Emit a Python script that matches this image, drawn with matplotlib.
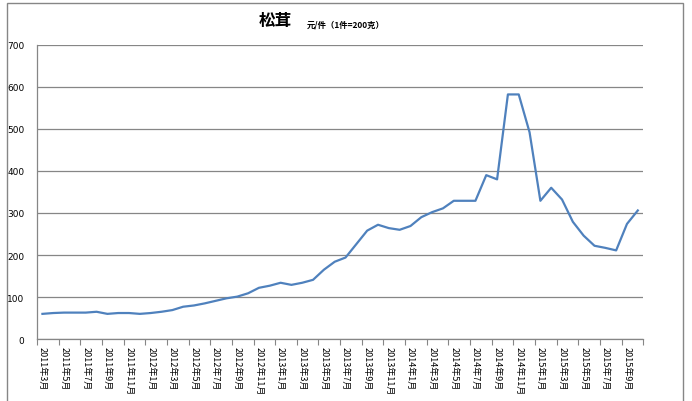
import matplotlib
matplotlib.use('Agg')
import matplotlib.pyplot as plt
import numpy as np
from matplotlib.patches import Rectangle

plt.rcParams['font.family'] = ['Noto Sans CJK SC', 'DejaVu Sans']

# monthly price, 2011-3 .. 2015-10 (元/件)
months = []
for y in range(2011, 2016):
    for m in range(1, 13):
        if (y == 2011 and m < 3) or (y == 2015 and m > 10):
            continue
        months.append('%d年%d月' % (y, m))

prices = [60, 62, 63, 63, 63, 65, 60, 62, 62, 60,
          62, 65, 69, 77, 80, 85, 91, 97, 101, 109,
          122, 127, 134, 129, 134, 141, 165, 184, 194, 226,
          258, 272, 264, 260, 269, 290, 302, 311, 329, 329,
          329, 390, 380, 582, 582, 492, 329, 360, 332, 279,
          246, 222, 217, 211, 274, 306]

title = '松茸'
subtitle = '元/件（1件=200克）'
yticks = [0, 100, 200, 300, 400, 500, 600, 700]

fig = plt.figure(figsize=(6.92, 4.02), dpi=100)
ax = fig.add_axes([0.0535, 0.154, 0.876, 0.732])

x = np.arange(len(prices))
ax.plot(x, prices, color='#4F81BD', lw=1.6, solid_joinstyle='round')

ax.set_xlim(-0.5, len(prices) - 0.5)
ax.set_ylim(0, 700)
ax.set_yticks(yticks)
ax.set_yticklabels([str(v) for v in yticks], fontsize=6.5, family='DejaVu Sans')
ax.yaxis.grid(True, color='#868686', lw=0.9)
ax.set_axisbelow(True)
ax.tick_params(axis='y', length=0, pad=9)

# labels every two months, tick marks between categories
ax.set_xticks(x[::2])
ax.set_xticklabels(months[::2], rotation=-90, fontsize=6.5, va='top', ha='center')
ax.tick_params(axis='x', which='major', length=0, pad=5)
ax.set_xticks(np.arange(-0.5, len(prices), 2), minor=True)
ax.tick_params(axis='x', which='minor', length=4, color='#868686', width=0.8)

for s in ['top', 'right']:
    ax.spines[s].set_visible(False)
for s in ['left', 'bottom']:
    ax.spines[s].set_color('#868686')
    ax.spines[s].set_linewidth(0.9)

fig.text(275 / 692, 1 - 21 / 402, title, fontsize=12, fontweight='bold',
         ha='center', va='center')
fig.text(307 / 692, 1 - 25 / 402, subtitle, fontsize=6, fontweight='bold',
         ha='left', va='center')

# chart border
fig.patches.append(Rectangle((7 / 692, -0.05), 676 / 692, 1.05 - 4 / 402,
                             transform=fig.transFigure, fill=False,
                             edgecolor='#868686', lw=1))

fig.savefig('out.png', dpi=100)
